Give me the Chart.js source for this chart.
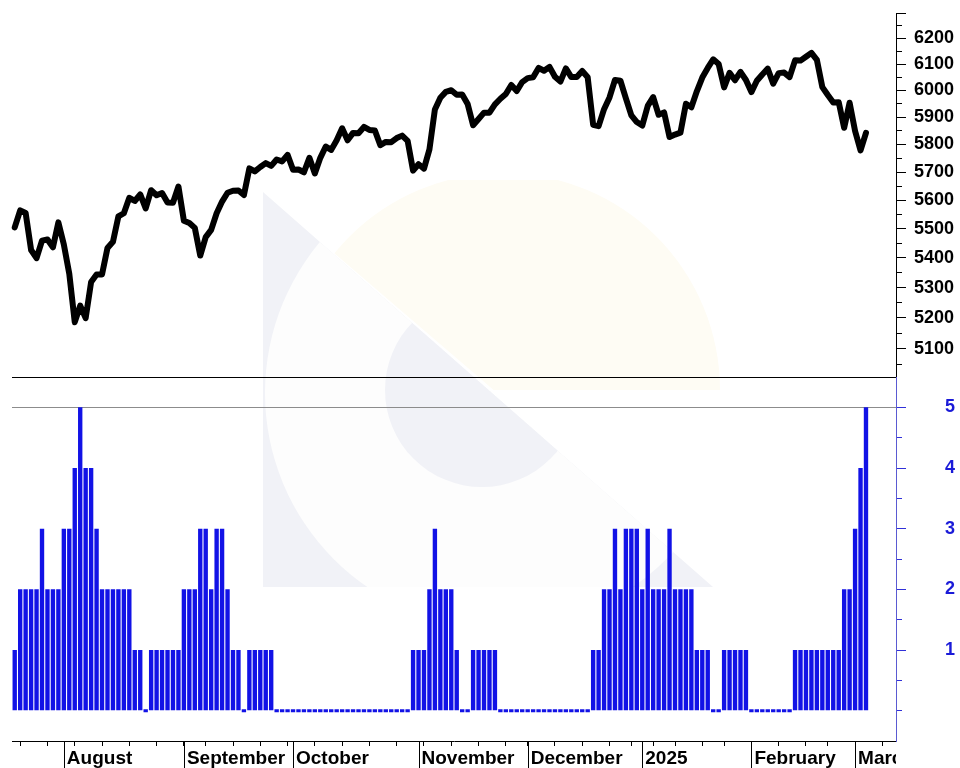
<!DOCTYPE html>
<html>
<head>
<meta charset="utf-8">
<title>S&P 500 and signal count</title>
<script src="https://cdn.jsdelivr.net/npm/chart.js@4.4.1/dist/chart.umd.min.js"></script>
<style>
  html, body { margin: 0; padding: 0; background: #fff; }
  #wrap { width: 960px; height: 768px; }
</style>
</head>
<body>
<div id="wrap"><canvas id="spxChart" width="960" height="768"></canvas></div>
<script>
// trading days on the x axis (the last five are empty room on the right)
const tradingDays = [
    '2024-07-19', '2024-07-22', '2024-07-23', '2024-07-24', '2024-07-25', '2024-07-26', '2024-07-29', '2024-07-30', '2024-07-31',
    '2024-08-01', '2024-08-02', '2024-08-05', '2024-08-06', '2024-08-07', '2024-08-08', '2024-08-09', '2024-08-12', '2024-08-13',
    '2024-08-14', '2024-08-15', '2024-08-16', '2024-08-19', '2024-08-20', '2024-08-21', '2024-08-22', '2024-08-23', '2024-08-26',
    '2024-08-27', '2024-08-28', '2024-08-29', '2024-08-30',
    '2024-09-03', '2024-09-04', '2024-09-05', '2024-09-06', '2024-09-09', '2024-09-10', '2024-09-11', '2024-09-12', '2024-09-13',
    '2024-09-16', '2024-09-17', '2024-09-18', '2024-09-19', '2024-09-20', '2024-09-23', '2024-09-24', '2024-09-25', '2024-09-26',
    '2024-09-27', '2024-09-30',
    '2024-10-01', '2024-10-02', '2024-10-03', '2024-10-04', '2024-10-07', '2024-10-08', '2024-10-09', '2024-10-10', '2024-10-11',
    '2024-10-14', '2024-10-15', '2024-10-16', '2024-10-17', '2024-10-18', '2024-10-21', '2024-10-22', '2024-10-23', '2024-10-24',
    '2024-10-25', '2024-10-28', '2024-10-29', '2024-10-30', '2024-10-31',
    '2024-11-01', '2024-11-04', '2024-11-05', '2024-11-06', '2024-11-07', '2024-11-08', '2024-11-11', '2024-11-12', '2024-11-13',
    '2024-11-14', '2024-11-15', '2024-11-18', '2024-11-19', '2024-11-20', '2024-11-21', '2024-11-22', '2024-11-25', '2024-11-26',
    '2024-11-27', '2024-11-29',
    '2024-12-02', '2024-12-03', '2024-12-04', '2024-12-05', '2024-12-06', '2024-12-09', '2024-12-10', '2024-12-11', '2024-12-12',
    '2024-12-13', '2024-12-16', '2024-12-17', '2024-12-18', '2024-12-19', '2024-12-20', '2024-12-23', '2024-12-24', '2024-12-26',
    '2024-12-27', '2024-12-30', '2024-12-31',
    '2025-01-02', '2025-01-03', '2025-01-06', '2025-01-07', '2025-01-08', '2025-01-10', '2025-01-13', '2025-01-14', '2025-01-15',
    '2025-01-16', '2025-01-17', '2025-01-21', '2025-01-22', '2025-01-23', '2025-01-24', '2025-01-27', '2025-01-28', '2025-01-29',
    '2025-01-30', '2025-01-31',
    '2025-02-03', '2025-02-04', '2025-02-05', '2025-02-06', '2025-02-07', '2025-02-10', '2025-02-11', '2025-02-12', '2025-02-13',
    '2025-02-14', '2025-02-18', '2025-02-19', '2025-02-20', '2025-02-21', '2025-02-24', '2025-02-25', '2025-02-26', '2025-02-27',
    '2025-02-28',
    '2025-03-03', '2025-03-04', '2025-03-05', '2025-03-06', '2025-03-07', '2025-03-10', '2025-03-11', '2025-03-12'
];

// index level (top panel, log scale)
const indexLevel = [
    5505, 5564, 5555, 5427, 5399, 5459, 5463, 5436, 5522,
    5446, 5346, 5186, 5240, 5199, 5319, 5344, 5344, 5434, 5455, 5543, 5554, 5608, 5597, 5620, 5571, 5635, 5617, 5625, 5592, 5591, 5648,
    5528, 5520, 5503, 5408, 5471, 5496, 5554, 5595, 5626, 5633, 5634, 5618, 5713, 5702, 5718, 5732, 5722, 5745, 5738, 5762,
    5708, 5709, 5699, 5751, 5695, 5751, 5792, 5780, 5815, 5859, 5815, 5842, 5841, 5864, 5853, 5851, 5797, 5809, 5808, 5823, 5832, 5813, 5705,
    5728, 5712, 5782, 5929, 5973, 5995, 6001, 5984, 5985, 5949, 5870, 5893, 5917, 5917, 5948, 5969, 5987, 6021, 5998, 6032,
    6047, 6050, 6086, 6075, 6090, 6052, 6034, 6084, 6051, 6051, 6074, 6050, 5872, 5867, 5930, 5974, 6040, 6037, 5970, 5907, 5882,
    5869, 5942, 5975, 5909, 5918, 5827, 5836, 5843, 5950, 5937, 5997, 6049, 6086, 6119, 6101, 6012, 6067, 6039, 6071, 6040,
    5994, 6037, 6061, 6083, 6026, 6066, 6068, 6051, 6115, 6114, 6129, 6144, 6117, 6013, 5983, 5955, 5956, 5861, 5954,
    5849, 5778, 5842
];

// daily count (bottom panel)
const dailyCount = [
    1, 2, 2, 2, 2, 3, 2, 2, 2,
    3, 3, 4, 5, 4, 4, 3, 2, 2, 2, 2, 2, 2, 1, 1, 0, 1, 1, 1, 1, 1, 1,
    2, 2, 2, 3, 3, 2, 3, 3, 2, 1, 1, 0, 1, 1, 1, 1, 1, 0, 0, 0,
    0, 0, 0, 0, 0, 0, 0, 0, 0, 0, 0, 0, 0, 0, 0, 0, 0, 0, 0, 0, 0, 0, 1,
    1, 1, 2, 3, 2, 2, 2, 1, 0, 0, 1, 1, 1, 1, 1, 0, 0, 0, 0, 0,
    0, 0, 0, 0, 0, 0, 0, 0, 0, 0, 0, 0, 1, 1, 2, 2, 3, 2, 3, 3, 3,
    2, 3, 2, 2, 2, 3, 2, 2, 2, 2, 1, 1, 1, 0, 0, 1, 1, 1, 1, 1,
    0, 0, 0, 0, 0, 0, 0, 0, 1, 1, 1, 1, 1, 1, 1, 1, 1, 2, 2,
    3, 4, 5
];

// month names written under the first trading day of each month
const monthStarts = ['2024-08-01', '2024-09-03', '2024-10-01', '2024-11-01', '2024-12-02', '2025-01-02', '2025-02-03', '2025-03-03'];
const monthNames = ['August', 'September', 'October', 'November', 'December', '2025', 'February', 'March'];

// right-hand tick values
const levelTicks = [5050, 5100, 5150, 5200, 5250, 5300, 5350, 5400, 5450, 5500, 5550, 5600, 5650,
    5700, 5750, 5800, 5850, 5900, 5950, 6000, 6050, 6100, 6150, 6200, 6250, 6300];
const levelLabels = [5100, 5200, 5300, 5400, 5500, 5600, 5700, 5800, 5900, 6000, 6100, 6200];
const countTicks = [-0.5, 0, 0.5, 1, 1.5, 2, 2.5, 3, 3.5, 4, 4.5, 5, 5.5];
const countLabels = [1, 2, 3, 4, 5];

const FONT = "'Liberation Sans', Arial, sans-serif";
const BLUE = '#1212e6';

// a week starts when the weekday number drops
function isWeekStart(i) {
    if (i === 0) return false;
    const d = new Date(tradingDays[i] + 'T00:00:00Z').getUTCDay();
    const p = new Date(tradingDays[i - 1] + 'T00:00:00Z').getUTCDay();
    return d < p;
}

// right axes: fixed width, no extra vertical room for the labels
function fitRightAxis(axis) {
    axis.width = 64;
    axis.paddingTop = 0;
    axis.paddingBottom = 0;
}

// very faint logo in the background
function drawLogo(ctx) {
    const L = 263, T = 192, R = 713, B = 587;
    const grey = '#f1f2f7';
    ctx.save();
    ctx.beginPath();
    ctx.moveTo(L, T);
    ctx.lineTo(R, B);
    ctx.lineTo(L, B);
    ctx.closePath();
    ctx.fillStyle = grey;
    ctx.fill();
    ctx.clip();
    ctx.beginPath();
    ctx.arc(500, 393, 235, 0, Math.PI * 2);
    ctx.fillStyle = '#fdfdfd';
    ctx.fill();
    ctx.beginPath();
    ctx.arc(482, 390, 97, 0, Math.PI * 2);
    ctx.fillStyle = grey;
    ctx.fill();
    ctx.restore();

    ctx.save();
    ctx.beginPath();
    ctx.moveTo(L, T - 12);
    ctx.lineTo(L, T);
    ctx.lineTo(R + 10, B);
    ctx.lineTo(R + 10, T - 12);
    ctx.closePath();
    ctx.clip();
    ctx.beginPath();
    ctx.arc(503, 390, 217, Math.PI, Math.PI * 2);
    ctx.closePath();
    ctx.fillStyle = '#fefcf4';
    ctx.fill();
    ctx.restore();
}

// long month separators under the x axis, and clip the right-hand end of the month labels
const monthSeparators = {
    id: 'monthSeparators',
    beforeDraw(chart) {
        const area = chart.chartArea;
        const ctx = chart.ctx;
        drawLogo(ctx);
        ctx.save();
        ctx.beginPath();
        ctx.moveTo(0, 0);
        ctx.lineTo(chart.width, 0);
        ctx.lineTo(chart.width, area.bottom + 3);
        ctx.lineTo(area.right, area.bottom + 3);
        ctx.lineTo(area.right, chart.height);
        ctx.lineTo(0, chart.height);
        ctx.closePath();
        ctx.clip();
    },
    afterDraw(chart) {
        const ctx = chart.ctx;
        const x = chart.scales.x;
        ctx.strokeStyle = '#000';
        ctx.lineWidth = 1;
        monthStarts.forEach(day => {
            const px = Math.round(x.getPixelForValue(tradingDays.indexOf(day))) + 0.5;
            ctx.beginPath();
            ctx.moveTo(px, x.top);
            ctx.lineTo(px, chart.height);
            ctx.stroke();
        });
        ctx.restore();
    }
};

const ctx = document.getElementById('spxChart').getContext('2d');

new Chart(ctx, {
    type: 'bar',
    data: {
        labels: tradingDays,
        datasets: [
            {
                type: 'line',
                label: 'Index',
                data: indexLevel,
                yAxisID: 'y',
                borderColor: '#000',
                borderWidth: 6,
                borderJoinStyle: 'round',
                borderCapStyle: 'round',
                pointRadius: 0,
                tension: 0,
                fill: false
            },
            {
                type: 'bar',
                label: 'Count',
                data: dailyCount,
                yAxisID: 'y2',
                backgroundColor: BLUE,
                barPercentage: 0.8,
                categoryPercentage: 1,
                minBarLength: 3
            }
        ]
    },
    options: {
        responsive: false,
        animation: false,
        layout: { padding: { left: 12, top: 13, right: 0, bottom: -3 } },
        plugins: {
            legend: { display: false },
            tooltip: { enabled: false }
        },
        scales: {
            x: {
                type: 'category',
                offset: true,
                border: { color: '#000', width: 1 },
                grid: {
                    offset: false,
                    drawOnChartArea: false,
                    tickLength: 5,
                    tickColor: c => (isWeekStart(c.index) ? '#000' : 'rgba(0,0,0,0)')
                },
                ticks: {
                    autoSkip: false,
                    maxRotation: 0,
                    minRotation: 0,
                    align: 'start',
                    labelOffset: 3,
                    padding: 3,
                    color: '#000',
                    font: { family: FONT, size: 19, weight: 'bold', lineHeight: 1.0 },
                    callback: function (value, index) {
                        const k = monthStarts.indexOf(tradingDays[index]);
                        return k >= 0 ? monthNames[k] : '';
                    }
                }
            },
            y: {
                type: 'logarithmic',
                position: 'right',
                stack: 'panels',
                stackWeight: 1,
                min: 5010,
                max: 6300,
                afterBuildTicks: axis => { axis.ticks = levelTicks.map(v => ({ value: v })); },
                afterFit: fitRightAxis,
                border: { color: '#000', width: 1 },
                grid: {
                    drawOnChartArea: false,
                    tickLength: 10,
                    tickColor: '#000',
                    tickBorderDash: c => (c.tick && c.tick.value % 100 !== 0 ? [5, 40] : [])
                },
                ticks: {
                    autoSkip: false,
                    padding: 8,
                    color: '#000',
                    font: { family: FONT, size: 18, weight: 'bold' },
                    callback: v => (levelLabels.includes(v) ? String(v) : '')
                }
            },
            y2: {
                type: 'linear',
                position: 'right',
                stack: 'panels',
                stackWeight: 1,
                min: -0.5,
                max: 5.5,
                afterBuildTicks: axis => { axis.ticks = countTicks.map(v => ({ value: v })); },
                afterFit: fitRightAxis,
                border: { color: '#5a5ad2', width: 1 },
                grid: {
                    drawOnChartArea: true,
                    color: c => {
                        if (!c.tick) return 'rgba(0,0,0,0)';
                        if (c.tick.value === 5.5) return '#000';
                        if (c.tick.value === 5) return '#8c8c8c';
                        return 'rgba(0,0,0,0)';
                    },
                    tickLength: 10,
                    tickColor: c => (c.tick && (c.tick.value === 5.5 || c.tick.value === -0.5) ? 'rgba(0,0,0,0)' : '#3030d8'),
                    tickBorderDash: c => (c.tick && countLabels.includes(c.tick.value) ? [] : [5, 40])
                },
                ticks: {
                    autoSkip: false,
                    padding: 39,
                    color: '#1a1ad8',
                    font: { family: FONT, size: 18, weight: 'bold' },
                    callback: v => (countLabels.includes(v) ? String(v) : '')
                }
            }
        }
    },
    plugins: [monthSeparators]
});
</script>
</body>
</html>
